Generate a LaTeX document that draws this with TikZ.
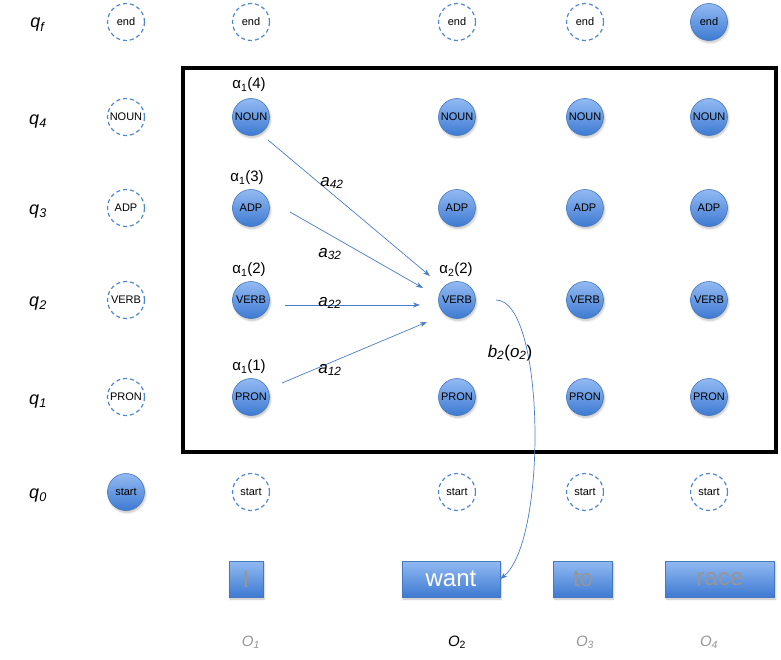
\documentclass[tikz,border=0pt]{standalone}
\usepackage{fontspec}
\setmainfont{Liberation Sans}
\usetikzlibrary{arrows.meta,shadows.blur}
\definecolor{ctop}{RGB}{146,186,242}
\definecolor{cbot}{RGB}{62,122,210}
\definecolor{cedge}{RGB}{70,120,190}
\definecolor{cdash}{RGB}{80,135,210}
\definecolor{carrow}{RGB}{75,125,200}
\definecolor{cgrey}{RGB}{150,150,150}
\newcommand{\isub}[2]{\textit{#1}\textsubscript{\textit{#2}}}
\tikzset{
  st/.style={circle,minimum size=37pt,inner sep=0pt,top color=ctop,bottom color=cbot,draw=cedge,line width=0.6pt,
    blur shadow={shadow xshift=1pt,shadow yshift=-2pt,shadow blur steps=5,shadow opacity=25},
    font=\fontsize{11}{12}\selectfont},
  dst/.style={circle,minimum size=37pt,inner sep=0pt,draw=cdash,dashed,dash pattern=on 4pt off 3pt,line width=1.2pt,fill=white,
    font=\fontsize{11}{12}\selectfont},
  qlab/.style={font=\fontsize{18}{20}\selectfont},
  alab/.style={font=\fontsize{15}{18}\selectfont},
  tlab/.style={font=\fontsize{17}{20}\selectfont},
  word/.style={rectangle,minimum height=36pt,inner sep=0pt,top color=ctop,bottom color=cbot,draw=cedge,line width=0.6pt,
    blur shadow={shadow xshift=1pt,shadow yshift=-2pt,shadow blur steps=5,shadow opacity=25},
    font=\fontsize{24}{26}\selectfont},
  obs/.style={font=\fontsize{15}{18}\selectfont\itshape},
  tr/.style={draw=carrow,line width=0.7pt,-{Stealth[length=7pt,width=5pt,inset=2pt]}},
}
\begin{document}
\begin{tikzpicture}[x=1pt,y=-1pt]
\useasboundingbox (0,0) rectangle (781,660);
% row labels
\node[qlab] (lqf) at (38,25) {\isub{q}{f}};
\node[qlab] (lq4) at (38,122) {\isub{q}{4}};
\node[qlab] (lq3) at (38,212) {\isub{q}{3}};
\node[qlab] (lq2) at (38,304) {\isub{q}{2}};
\node[qlab] (lq1) at (38,402) {\isub{q}{1}};
\node[qlab] (lq0) at (38,496) {\isub{q}{0}};
% box
\draw[line width=3.5pt] (183,68) rectangle (776,452);
% column 0
\node[dst] (e0) at (126,22) {end};
\node[dst] (n0) at (126,117) {NOUN};
\node[dst] (a0) at (126,208) {ADP};
\node[dst] (v0) at (126,300) {VERB};
\node[dst] (p0) at (126,397) {PRON};
\node[st]  (s0) at (126,492) {start};
% column 1
\node[dst] (e1) at (251,22) {end};
\node[st]  (n1) at (251,117) {NOUN};
\node[st]  (a1) at (251,208) {ADP};
\node[st]  (v1) at (251,300) {VERB};
\node[st]  (p1) at (251,397) {PRON};
\node[dst] (s1) at (251,492) {start};
% column 2
\node[dst] (e2) at (457,22) {end};
\node[st]  (n2) at (457,117) {NOUN};
\node[st]  (a2) at (457,208) {ADP};
\node[st]  (v2) at (457,300) {VERB};
\node[st]  (p2) at (457,397) {PRON};
\node[dst] (s2) at (457,492) {start};
% column 3
\node[dst] (e3) at (585,22) {end};
\node[st]  (n3) at (585,117) {NOUN};
\node[st]  (a3) at (585,208) {ADP};
\node[st]  (v3) at (585,300) {VERB};
\node[st]  (p3) at (585,397) {PRON};
\node[dst] (s3) at (585,492) {start};
% column 4
\node[st]  (e4) at (709,22) {end};
\node[st]  (n4) at (709,117) {NOUN};
\node[st]  (a4) at (709,208) {ADP};
\node[st]  (v4) at (709,300) {VERB};
\node[st]  (p4) at (709,397) {PRON};
\node[dst] (s4) at (709,492) {start};
% alpha labels
\node[alab] (al4) at (249,85) {α\textsubscript{1}(4)};
\node[alab] (al3) at (247,178) {α\textsubscript{1}(3)};
\node[alab] (al2) at (249,270) {α\textsubscript{1}(2)};
\node[alab] (al1) at (249,367) {α\textsubscript{1}(1)};
\node[alab] (al22) at (456,270) {α\textsubscript{2}(2)};
% arrow endpoints
\coordinate (f4) at (268,140);
\coordinate (f3) at (290,212);
\coordinate (f2) at (285,305);
\coordinate (f1) at (282,383);
\coordinate (t4) at (430,276);
\coordinate (t3) at (423,288);
\coordinate (t2) at (420,305);
\coordinate (t1) at (427,322);
\draw[tr] (f4) -- (t4);
\draw[tr] (f3) -- (t3);
\draw[tr] (f2) -- (t2);
\draw[tr] (f1) -- (t1);
\node[tlab] (l42) at (332,183) {\isub{a}{42}};
\node[tlab] (l32) at (330,254) {\isub{a}{32}};
\node[tlab] (l22) at (330,303) {\isub{a}{22}};
\node[tlab] (l12) at (330,370) {\isub{a}{12}};
% words
\node[word,minimum width=34pt,text=cgrey] (w1) at (246,579) {I};
\node[word,minimum width=98pt,text=white] (w2) at (451,579) {want};
\node[word,minimum width=59pt,text=cgrey] (w3) at (583,579) {to};
\node[word,minimum width=109pt,text=cgrey] (w4) at (720,579) {race};
% emission
\coordinate (b0) at (496,300);
\draw[tr] (b0) .. controls (545,300) and (548,540) .. (w2.east);
\node[tlab] (lb) at (510,353) {\isub{b}{2}(\isub{o}{2})};
% observation labels
\node[obs,text=cgrey] (o1) at (251,642) {O\textsubscript{1}};
\node[obs] (o2) at (457,642) {O\textsubscript{\upshape 2}};
\node[obs,text=cgrey] (o3) at (585,642) {O\textsubscript{3}};
\node[obs,text=cgrey] (o4) at (709,642) {O\textsubscript{4}};
\end{tikzpicture}
\end{document}
